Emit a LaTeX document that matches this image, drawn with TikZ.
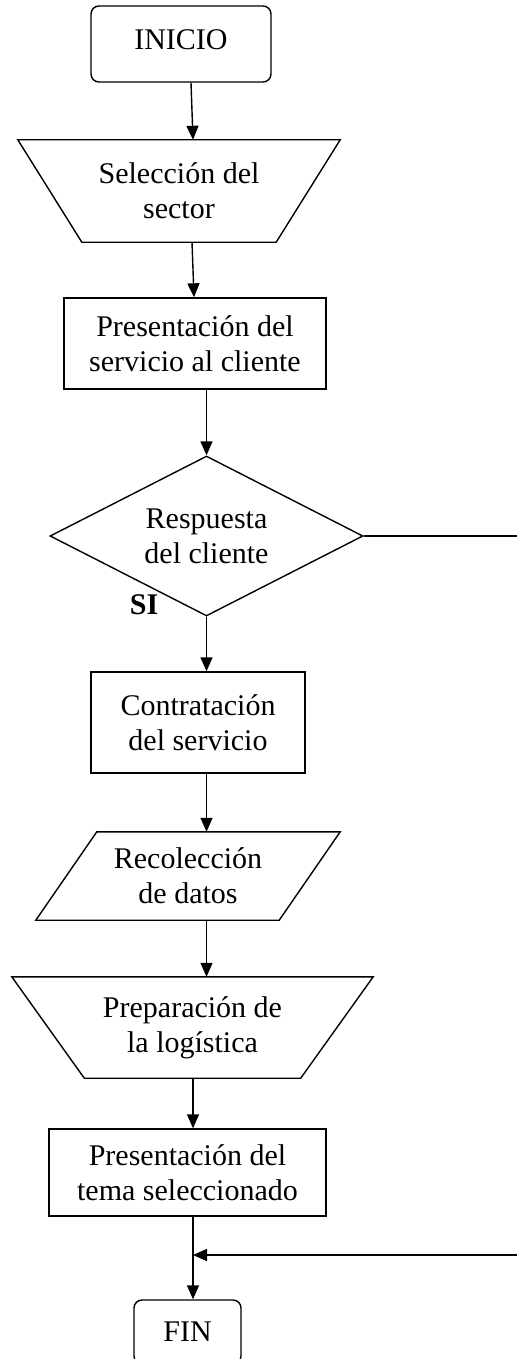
\documentclass[tikz,border=0pt]{standalone}
\usepackage{fontspec}
\setmainfont{Liberation Serif}
\usetikzlibrary{shapes.geometric,arrows.meta}

\tikzset{
  box/.style={draw, line width=1.4pt, inner sep=2pt, align=center},
  term/.style={box, rectangle, rounded corners=8pt},
  proc/.style={box, rectangle},
  io/.style={rectangle, inner sep=2pt, align=center},
  outline/.style={line width=1.4pt, line join=miter},
  decision/.style={box, diamond, aspect=1.96},
  arr/.style={line width=1.4pt, -{Triangle[length=14pt,width=12pt]}},
  link/.style={line width=1.4pt},
}

\begin{document}
\begin{tikzpicture}[x=1pt, y=-1pt, every node/.style={font=\fontsize{30}{35}\selectfont}]
  \useasboundingbox (0,0) rectangle (517,1359);
  % shapes
  \node[term, minimum width=180, minimum height=76, text depth=8pt] (ini) at (181,44) {INICIO};
  \node[io, minimum width=322, minimum height=102] (sel) at (179,191) {Selección del\\sector};
  \draw[outline] (sel.north west) -- (sel.north east) -- ([xshift=-64]sel.south east) -- ([xshift=64]sel.south west) -- cycle;
  \node[proc, minimum width=262, minimum height=91] (pres) at (195,343.5) {Presentación del\\servicio al cliente};
  \node[decision, minimum width=313, minimum height=160] (resp) at (206.5,536) {Respuesta\\del cliente};
  \node[font=\fontsize{30}{35}\selectfont\bfseries] (si) at (144,605) {SI};
  \node[proc, minimum width=214, minimum height=101] (contr) at (198,722.5) {Contratación\\del servicio};
  \node[io, minimum width=304, minimum height=88] (reco) at (188,876) {Recolección\\de datos};
  \draw[outline] ([xshift=61]reco.north west) -- (reco.north east) -- ([xshift=-61]reco.south east) -- (reco.south west) -- cycle;
  \node[io, minimum width=361, minimum height=101] (prep) at (192.5,1027.5) {Preparación de\\la logística};
  \draw[outline] (prep.north west) -- (prep.north east) -- ([xshift=-72.5]prep.south east) -- ([xshift=72.5]prep.south west) -- cycle;
  \node[proc, minimum width=277, minimum height=87] (tema) at (187.5,1172.5) {Presentación del\\tema seleccionado};
  \node[term, minimum width=107, minimum height=64] (fin) at (187.5,1332) {FIN};
  % return line on the right
  \coordinate (rt) at (517,536);
  \coordinate (rb) at (517,1255);
  \coordinate (jn) at (193,1255);
  % connectors
  \draw[arr] ([xshift=10]ini.south) -- ([xshift=14]sel.north);
  \draw[arr] ([xshift=13]sel.south) -- ([xshift=-1]pres.north);
  \draw[arr] ([xshift=11.5]pres.south) -- (resp.north);
  \draw[arr] (resp.south) -- ([xshift=8.5]contr.north);
  \draw[arr] ([xshift=8.5]contr.south) -- ([xshift=18.5]reco.north);
  \draw[arr] ([xshift=18.5]reco.south) -- ([xshift=14]prep.north);
  \draw[arr] ([xshift=0.5]prep.south) -- ([xshift=5.5]tema.north);
  \draw[arr] ([xshift=5.5]tema.south) -- ([xshift=5.5]fin.north);
  \draw[link] (resp.east) -- (rt);
  \draw[arr] (rb) -- (jn);
\end{tikzpicture}
\end{document}
